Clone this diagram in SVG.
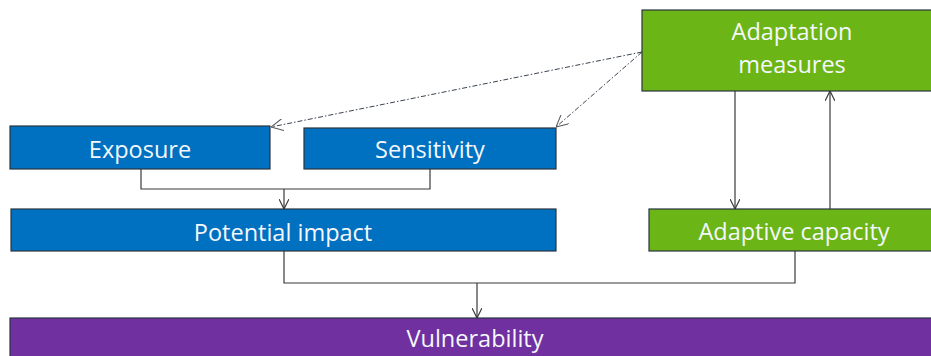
<svg xmlns="http://www.w3.org/2000/svg" width="931" height="356" viewBox="0 0 931 356">
<defs>
<style>
.box{stroke:#2a3440;stroke-width:1.2}
.blue{fill:#0070C0}
.green{fill:#6CB516}
.purple{fill:#7030A0}
.lbl{font-family:"Open Sans","Liberation Sans",sans-serif;font-size:23.5px;fill:#F4F8FC;text-anchor:middle}
.conn{fill:none;stroke:#3a3a3a;stroke-width:1.2}
.dash{fill:none;stroke:#3b4350;stroke-width:1;stroke-dasharray:5 2 1.5 2}
</style>
<marker id="ah" viewBox="0 0 10 10" refX="10" refY="5" markerWidth="10" markerHeight="10" markerUnits="userSpaceOnUse" orient="auto">
<path d="M0,0 L10,5 L0,10" fill="none" stroke="#3a3a3a" stroke-width="1.2"/>
</marker>
<marker id="ahd" viewBox="0 0 12 12" refX="12" refY="6" markerWidth="12" markerHeight="12" markerUnits="userSpaceOnUse" orient="auto">
<path d="M0,0 L12,6 L0,12" fill="none" stroke="#555" stroke-width="1"/>
</marker>
</defs>
<rect width="931" height="356" fill="#ffffff"/>
<g id="connectors">
<path class="dash" d="M642,52 L271,127" marker-end="url(#ahd)"/>
<path class="dash" d="M642,52 L556,127" marker-end="url(#ahd)"/>
<path class="conn" d="M141,169 V189 H430 V169"/>
<path class="conn" d="M284,189 V209" marker-end="url(#ah)"/>
<path class="conn" d="M735,91 V209" marker-end="url(#ah)"/>
<path class="conn" d="M830,209 V91" marker-end="url(#ah)"/>
<path class="conn" d="M284,251 V283 H795 V251"/>
<path class="conn" d="M477,283 V318" marker-end="url(#ah)"/>
</g>
<g id="adaptation-measures">
<rect class="box green" x="642" y="10" width="300" height="81"/>
<text class="lbl" x="792" y="40">Adaptation</text>
<text class="lbl" x="792" y="73">measures</text>
</g>
<g id="exposure">
<rect class="box blue" x="10" y="126" width="260" height="43"/>
<text class="lbl" x="140" y="158">Exposure</text>
</g>
<g id="sensitivity">
<rect class="box blue" x="304" y="128" width="252" height="41"/>
<text class="lbl" x="430" y="158">Sensitivity</text>
</g>
<g id="potential-impact">
<rect class="box blue" x="11" y="209" width="545" height="42"/>
<text class="lbl" x="283" y="241">Potential impact</text>
</g>
<g id="adaptive-capacity">
<rect class="box green" x="649" y="209" width="292" height="42"/>
<text class="lbl" x="794" y="240">Adaptive capacity</text>
</g>
<g id="vulnerability">
<rect class="box purple" x="10" y="318" width="931" height="45"/>
<text class="lbl" x="475" y="347">Vulnerability</text>
</g>
</svg>
